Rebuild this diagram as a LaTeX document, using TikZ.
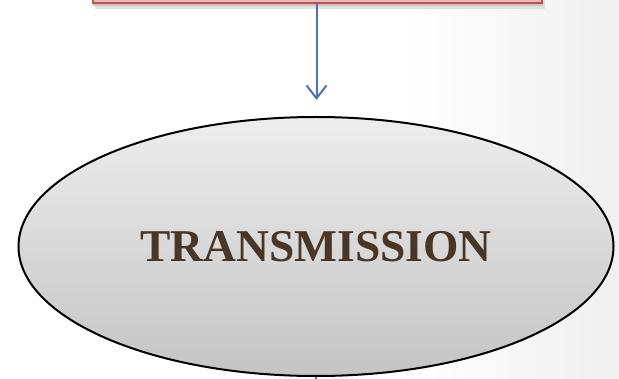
\documentclass[tikz,border=0pt]{standalone}
\usepackage{fontspec}
\usetikzlibrary{shapes.geometric,arrows.meta,shadows}
\newfontfamily\labelfont{Liberation Serif}
\definecolor{boxfill}{HTML}{E6B8B7}
\definecolor{boxline}{HTML}{C0504D}
\definecolor{arrowblue}{HTML}{4F6FC0}
\definecolor{textbrown}{HTML}{4A3626}
\definecolor{ellTop}{HTML}{EDEDED}
\definecolor{ellBot}{HTML}{C4C4C4}
\tikzset{
  topbox/.style={draw=boxline, line width=2pt, fill=boxfill, minimum width=449pt, minimum height=30pt, inner sep=0pt},
  flow/.style={draw=arrowblue, line width=2pt, -{Straight Barb[length=13pt,width=20pt,line width=2pt]}},
  stage/.style={ellipse, draw=black, line width=2pt, top color=ellTop, bottom color=ellBot, minimum width=595pt, minimum height=259pt, inner sep=0pt, text=textbrown, font=\labelfont\fontsize{45.5}{52}\selectfont\bfseries}
}
\begin{document}
\begin{tikzpicture}[x=1pt,y=-1pt]
\useasboundingbox (0,0) rectangle (619,379);
\clip (0,0) rectangle (619,379);
\fill[white] (0,0) rectangle (619,379);
\shade[left color=white, right color=black!6] (400,0) rectangle (619,379);
\fill[black!12] (95,-20) rectangle (545,9);
\fill[black!22] (93,-20) rectangle (543,6.5);
\node[topbox] (box) at (317,-11.5) {};
\node[stage] (trans) at (316,246.5) {TRANSMISSION};
\draw[flow] (box.south -| 316.5,0) -- (316.5,100);
\coordinate (below) at (316,400);
\draw[draw=arrowblue, line width=2pt] (trans.south) -- (below);
\end{tikzpicture}
\end{document}
